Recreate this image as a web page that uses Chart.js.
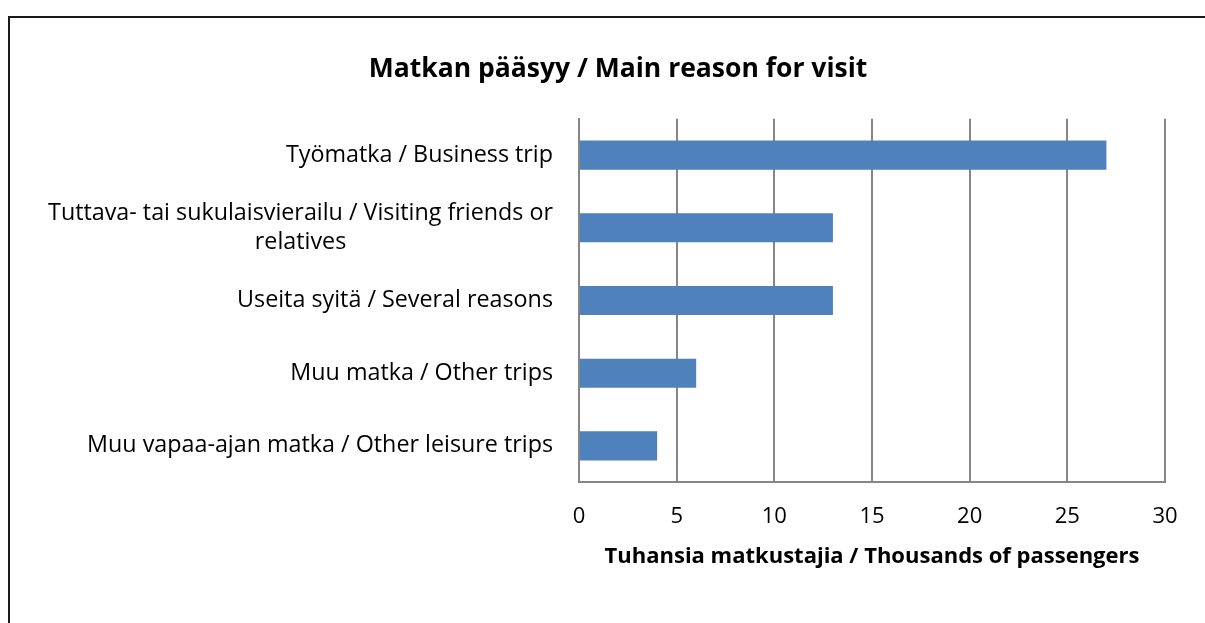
<!DOCTYPE html>
<html>
<head>
<meta charset="utf-8">
<script src="https://cdn.jsdelivr.net/npm/chart.js@4/dist/chart.umd.min.js"></script>
<style>
  html, body { margin: 0; padding: 0; background: #fff; overflow: hidden; }
  #frame {
    position: absolute; left: 8px; top: 16px;
    width: 1230px; height: 640px;
    border: 2px solid #1a1a1a; box-sizing: border-box;
  }
  #wrap { position: absolute; left: 10px; top: 18px; width: 1216px; height: 605px; }
</style>
</head>
<body>
<div id="frame"></div>
<div id="wrap"><canvas id="chart"></canvas></div>
<script>
const categories = [
  ["Työmatka / Business trip"],
  ["Tuttava- tai sukulaisvierailu / Visiting friends or", "relatives"],
  ["Useita syitä / Several reasons"],
  ["Muu matka / Other trips"],
  ["Muu vapaa-ajan matka / Other leisure trips"],
];
const passengers = [27, 13, 13, 6, 4];
const xTicks = [0, 5, 10, 15, 20, 25, 30];

const FONT = "'Open Sans'";
const LABEL_SIZE = 23.3;

// Excel style category labels: block right aligned, lines centred inside the block
const yLabels = {
  id: "yLabels",
  afterDraw(chart) {
    const { ctx, scales } = chart;
    const y = scales.y;
    const right = chart.chartArea.left - 26;
    const lh = 29;
    ctx.save();
    ctx.font = `${LABEL_SIZE}px ${FONT}`;
    ctx.fillStyle = "#000";
    ctx.textBaseline = "middle";
    ctx.textAlign = "center";
    categories.forEach((lines, i) => {
      const cy = y.getPixelForTick(i);
      const w = Math.max(...lines.map((l) => ctx.measureText(l).width));
      const cx = right - w / 2;
      const y0 = cy - ((lines.length - 1) * lh) / 2;
      lines.forEach((l, j) => ctx.fillText(l, cx, y0 + j * lh));
    });
    ctx.restore();
  },
};

new Chart(document.getElementById("chart"), {
  type: "bar",
  data: {
    labels: categories.map((c) => c.join(" ")),
    datasets: [
      {
        data: passengers,
        backgroundColor: "#4f81bd",
        barPercentage: 0.8,
        categoryPercentage: 0.5,
      },
    ],
  },
  options: {
    indexAxis: "y",
    responsive: true,
    maintainAspectRatio: false,
    animation: false,
    layout: { padding: { top: 10, right: 61, bottom: 51, left: 61 } },
    plugins: {
      legend: { display: false },
      tooltip: { enabled: false },
      title: {
        display: true,
        text: "Matkan pääsyy / Main reason for visit",
        color: "#000",
        font: { family: FONT, size: 26.5, weight: "bold" },
        padding: { top: 26, bottom: 33 },
      },
    },
    scales: {
      x: {
        min: 0,
        max: 30,
        afterBuildTicks: (s) => { s.ticks = xTicks.map((v) => ({ value: v })); },
        grid: { color: "#868686", lineWidth: 2, drawTicks: false },
        border: { display: true, color: "#868686", width: 2 },
        ticks: { color: "#000", font: { family: FONT, size: 22 }, padding: 21 },
        title: {
          display: true,
          text: "Tuhansia matkustajia / Thousands of passengers",
          color: "#000",
          font: { family: FONT, size: 22, weight: "bold" },
          padding: { top: -7, bottom: 2 },
        },
      },
      y: {
        grid: { display: false, drawTicks: false },
        border: { display: true, color: "#868686", width: 2 },
        ticks: { display: false },
        afterFit: (s) => { s.width = 508; },
      },
    },
  },
  plugins: [yLabels],
});
</script>
</body>
</html>
